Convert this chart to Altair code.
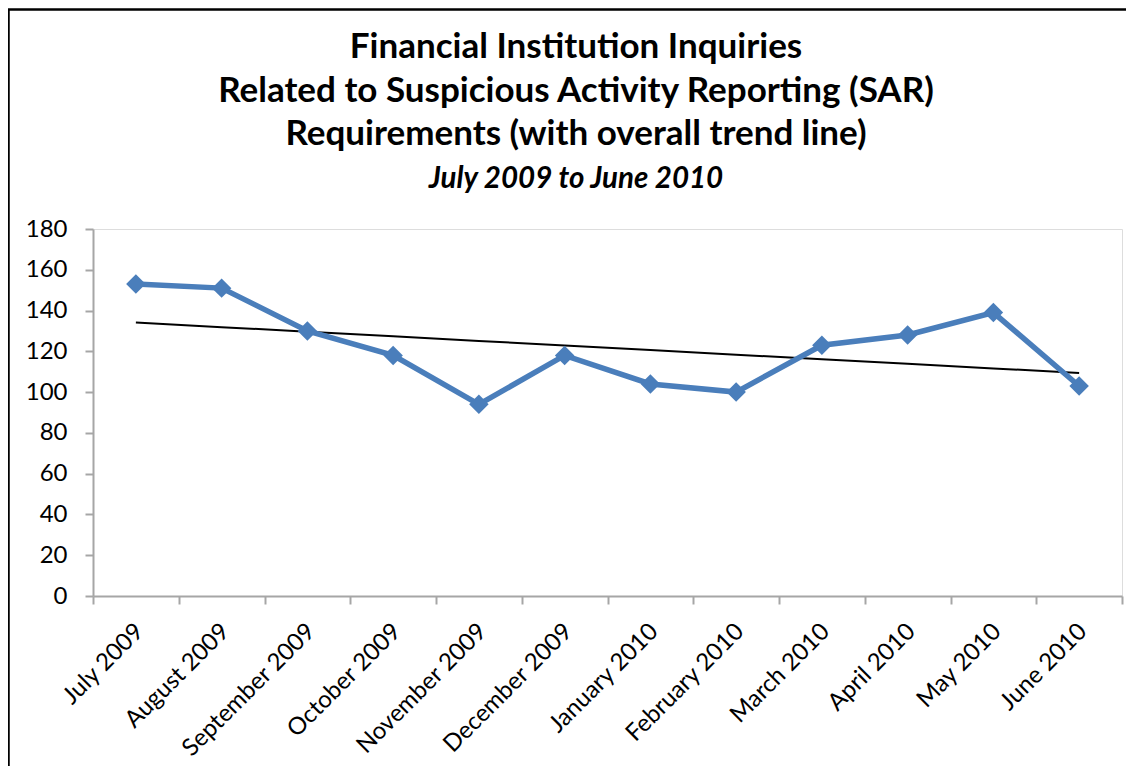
import altair as alt
import numpy as np
import pandas as pd

months = ["July 2009", "August 2009", "September 2009", "October 2009",
          "November 2009", "December 2009", "January 2010", "February 2010",
          "March 2010", "April 2010", "May 2010", "June 2010"]
inquiries = [153, 151, 130, 118, 94, 118, 104, 100, 123, 128, 139, 103]
y_ticks = [0, 20, 40, 60, 80, 100, 120, 140, 160, 180]
title_lines = ["Financial Institution Inquiries",
               "Related to Suspicious Activity Reporting (SAR)",
               "Requirements (with overall trend line)"]
subtitle = "July 2009 to June 2010"

idx = np.arange(len(months))
slope, intercept = np.polyfit(idx, inquiries, 1)
trend = list(intercept + slope * idx)

df = pd.DataFrame({"month": months, "value": inquiries, "trend": trend})

FONT = "Lato"
W, H = 1029, 367
PL, PT = 85, 221

x_enc = alt.X("month:N", sort=months, bandPosition=0.5,
              scale=alt.Scale(type="band", paddingInner=0, paddingOuter=0),
              axis=alt.Axis(title=None, labelAngle=-45, tickBand="extent",
                            labelFontSize=24, labelFont=FONT, labelLimit=400,
                            labelColor="#000000", labelPadding=15, labelOffset=-5,
                            tickSize=8, domainColor="#A6A6A6",
                            tickColor="#A6A6A6", domainWidth=2, tickWidth=2,
                            grid=False))
y_enc = alt.Y("value:Q", scale=alt.Scale(domain=[0, 180], nice=False),
              axis=alt.Axis(title=None, values=y_ticks, labelFontSize=24,
                            labelFont=FONT, labelColor="#000000", labelPadding=18,
                            tickSize=8, domainColor="#A6A6A6", tickColor="#A6A6A6",
                            domainWidth=2, tickWidth=2, grid=False))

base = alt.Chart(df)

line = base.mark_line(color="#4A7EBB", strokeWidth=5.5).encode(x=x_enc, y=y_enc)
pts = base.mark_point(shape="diamond", filled=True, size=380, color="#4A7EBB",
                      opacity=1).encode(x=x_enc, y=y_enc)
trend_line = base.mark_line(color="#000000", strokeWidth=2).encode(
    x=x_enc, y=alt.Y("trend:Q"))

one = pd.DataFrame({"a": [0]})
border = alt.Chart(one).mark_rect(
    fill=None, stroke="#000000", strokeWidth=2.5).encode(
    x=alt.value(-PL + 0.5), x2=alt.value(W + 200),
    y=alt.value(-PT + 1.5), y2=alt.value(H + 400))

TX = 483
title_layers = []
for i, t in enumerate(title_lines):
    title_layers.append(
        alt.Chart(one).mark_text(text=t, font=FONT, fontSize=35, fontWeight="bold",
                                 color="#000000", align="center",
                                 baseline="alphabetic").encode(
            x=alt.value(TX), y=alt.value(-171 + 43.5 * i)))
title_layers.append(
    alt.Chart(one).mark_text(text=subtitle, font=FONT, fontSize=29.5, fontWeight="bold",
                             fontStyle="italic", color="#000000", align="center",
                             baseline="alphabetic").encode(
        x=alt.value(TX), y=alt.value(-41)))

chart = alt.layer(trend_line, line, pts, border, *title_layers).properties(
    width=W, height=H,
    padding={"left": PL, "top": PT, "right": 4, "bottom": 170},
    autosize=alt.AutoSizeParams(type="none"),
).configure_view(stroke=None).configure(background="white")

chart.save("out.html", embed_options={"renderer": "svg", "actions": False})
